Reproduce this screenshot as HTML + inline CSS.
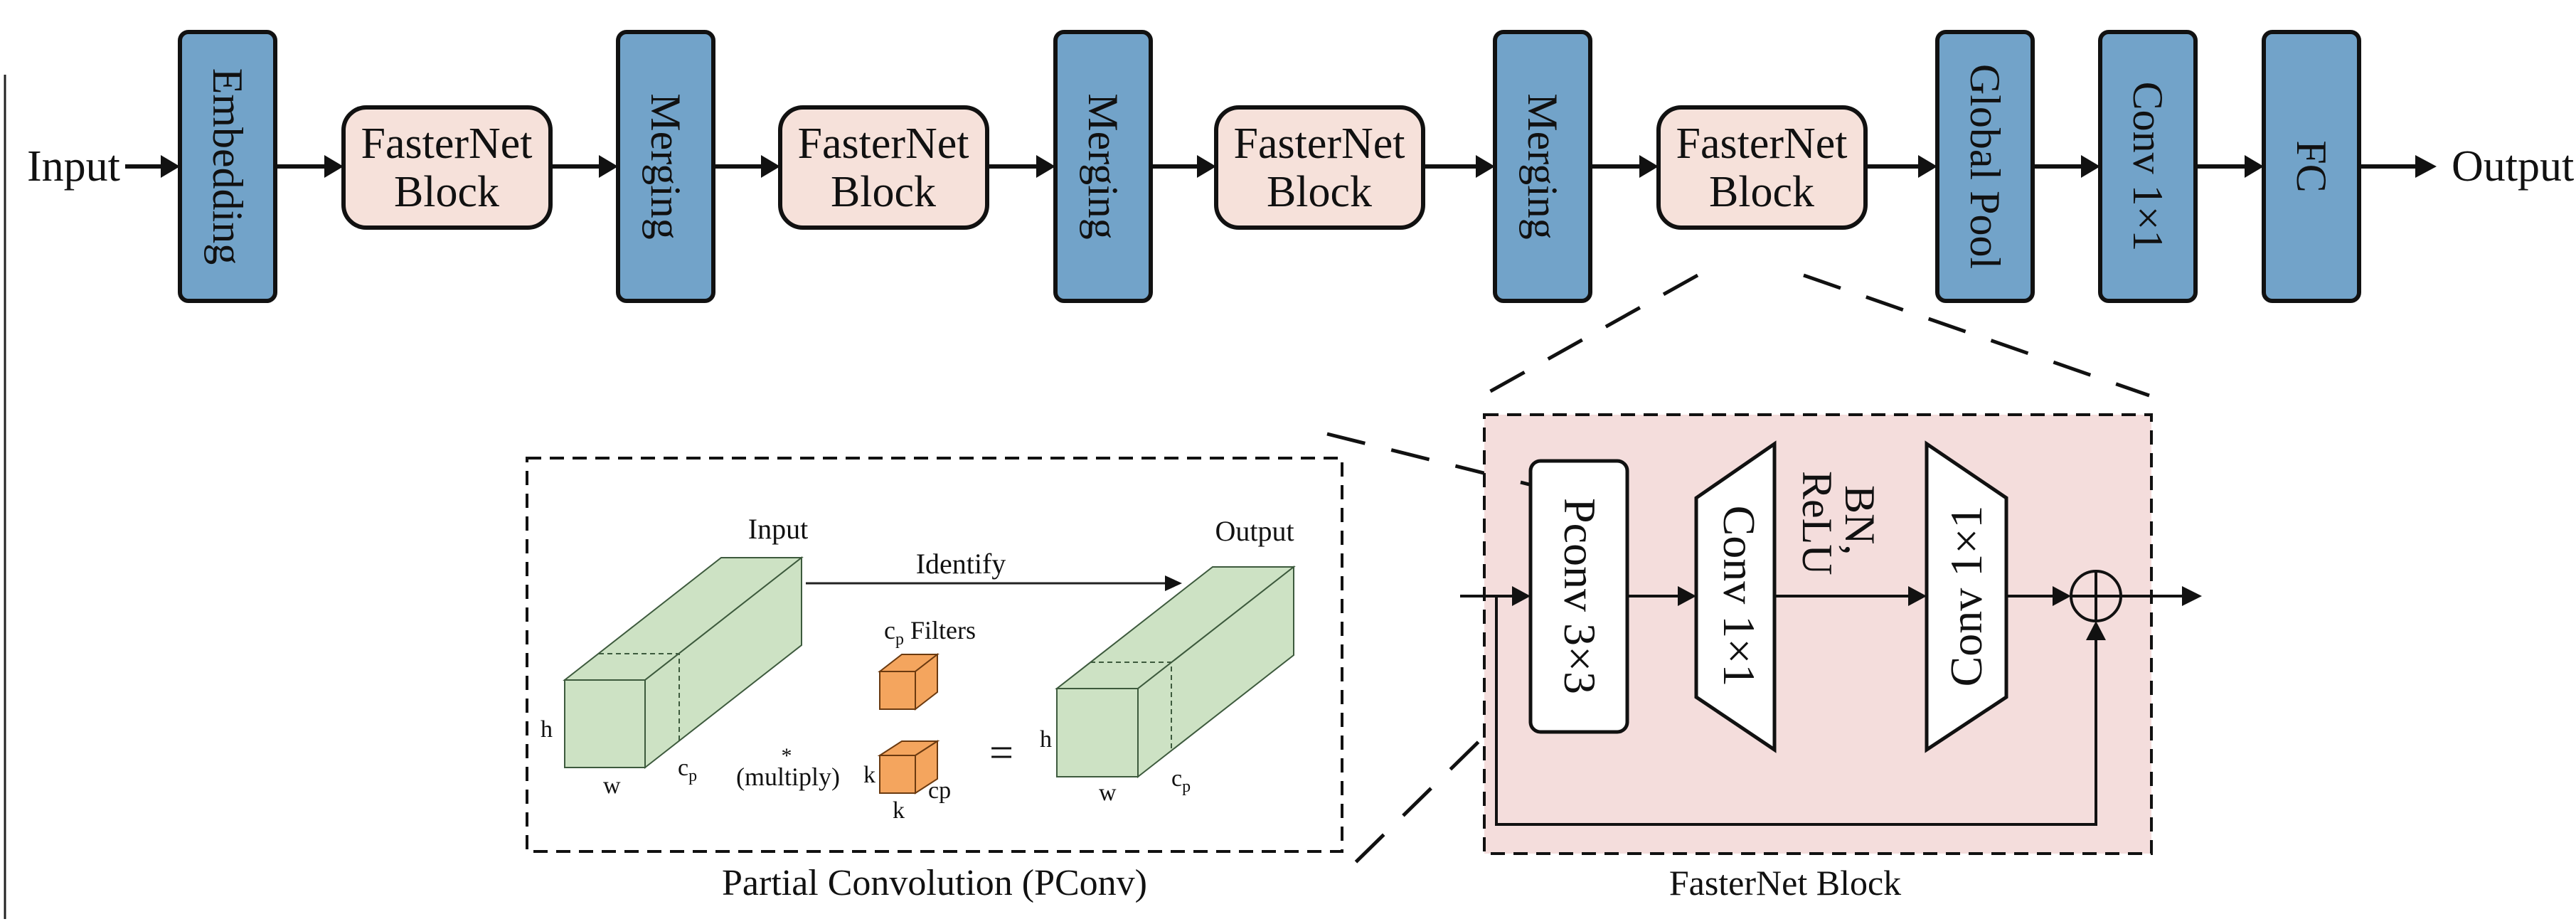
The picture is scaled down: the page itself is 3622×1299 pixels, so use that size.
<!DOCTYPE html>
<html><head><meta charset="utf-8"><style>
html,body{margin:0;padding:0;background:#fff;}
svg{display:block;}
text{font-family:"Liberation Serif","Times New Roman","DejaVu Serif",serif;fill:#111;}
</style></head><body>
<svg width="3622" height="1299" viewBox="0 0 3622 1299" xmlns="http://www.w3.org/2000/svg" font-family="Liberation Serif, Times New Roman, DejaVu Serif, serif">
<line x1="7" y1="105" x2="7" y2="1292" stroke="#222" stroke-width="3"/>

<g fill="#72a3c9" stroke="#111" stroke-width="6">
<rect x="253" y="45" width="134" height="378" rx="12"/>
<rect x="869" y="45" width="134" height="378" rx="12"/>
<rect x="1484" y="45" width="134" height="378" rx="12"/>
<rect x="2102" y="45" width="134" height="378" rx="12"/>
<rect x="2724" y="45" width="134" height="378" rx="12"/>
<rect x="2953" y="45" width="134" height="378" rx="12"/>
<rect x="3183" y="45" width="134" height="378" rx="12"/>
</g>
<g fill="#f6e1da" stroke="#111" stroke-width="6">
<rect x="483" y="151" width="291" height="169" rx="32"/>
<rect x="1097" y="151" width="291" height="169" rx="32"/>
<rect x="1710" y="151" width="291" height="169" rx="32"/>
<rect x="2332" y="151" width="291" height="169" rx="32"/>
</g>
<g font-size="62" text-anchor="middle">
<text x="628" y="222">FasterNet</text><text x="628" y="290">Block</text>
<text x="1242" y="222">FasterNet</text><text x="1242" y="290">Block</text>
<text x="1855" y="222">FasterNet</text><text x="1855" y="290">Block</text>
<text x="2477" y="222">FasterNet</text><text x="2477" y="290">Block</text>
</g>
<g font-size="60" text-anchor="middle">
<text transform="translate(320,234) rotate(90)" dy="20">Embedding</text>
<text transform="translate(936,234) rotate(90)" dy="20">Merging</text>
<text transform="translate(1551,234) rotate(90)" dy="20">Merging</text>
<text transform="translate(2169,234) rotate(90)" dy="20">Merging</text>
<text transform="translate(2791,234) rotate(90)" dy="20">Global Pool</text>
<text transform="translate(3020,234) rotate(90)" dy="20">Conv 1×1</text>
<text transform="translate(3250,234) rotate(90)" dy="20">FC</text>
</g>
<text x="38" y="254" font-size="62">Input</text>
<text x="3447" y="254" font-size="62">Output</text>
<g stroke="#111" stroke-width="6">
<line x1="176" y1="234" x2="230" y2="234"/>
<line x1="390" y1="234" x2="460" y2="234"/>
<line x1="777" y1="234" x2="846" y2="234"/>
<line x1="1006" y1="234" x2="1074" y2="234"/>
<line x1="1391" y1="234" x2="1461" y2="234"/>
<line x1="1621" y1="234" x2="1687" y2="234"/>
<line x1="2004" y1="234" x2="2079" y2="234"/>
<line x1="2239" y1="234" x2="2309" y2="234"/>
<line x1="2626" y1="234" x2="2701" y2="234"/>
<line x1="2861" y1="234" x2="2930" y2="234"/>
<line x1="3090" y1="234" x2="3160" y2="234"/>
<line x1="3320" y1="234" x2="3400" y2="234"/>
</g>
<g fill="#111">
<polygon points="253,234 226,218 226,250"/>
<polygon points="483,234 456,218 456,250"/>
<polygon points="869,234 842,218 842,250"/>
<polygon points="1097,234 1070,218 1070,250"/>
<polygon points="1484,234 1457,218 1457,250"/>
<polygon points="1710,234 1683,218 1683,250"/>
<polygon points="2102,234 2075,218 2075,250"/>
<polygon points="2332,234 2305,218 2305,250"/>
<polygon points="2724,234 2697,218 2697,250"/>
<polygon points="2953,234 2926,218 2926,250"/>
<polygon points="3183,234 3156,218 3156,250"/>
<polygon points="3426,234 3396,218 3396,250"/>
</g>

<g stroke="#111" stroke-width="5" stroke-dasharray="55,38" fill="none">
<line x1="2387" y1="387" x2="2085" y2="556"/>
<line x1="2536" y1="387" x2="3022" y2="556"/>
<line x1="1866" y1="610" x2="2138" y2="678"/>
<line x1="2145" y1="978" x2="1892" y2="1226"/>
</g>

<rect x="2087" y="583" width="938" height="617" fill="#f4dddc" stroke="#111" stroke-width="4" stroke-dasharray="20,12"/>
<text x="2510" y="1258" font-size="50" text-anchor="middle">FasterNet Block</text>
<line x1="2138" y1="678" x2="2150" y2="681" stroke="#111" stroke-width="5"/>
<rect x="2152" y="648" width="136" height="381" rx="14" fill="#fff" stroke="#111" stroke-width="5"/>
<text transform="translate(2220,838) rotate(90)" dy="20" font-size="64" text-anchor="middle">Pconv 3×3</text>
<polygon points="2385,700 2495,624 2495,1054 2385,980" fill="#fff" stroke="#111" stroke-width="5"/>
<text transform="translate(2444,838) rotate(90)" dy="20" font-size="64" text-anchor="middle">Conv 1×1</text>
<polygon points="2709,624 2821,700 2821,980 2709,1054" fill="#fff" stroke="#111" stroke-width="5"/>
<text transform="translate(2766,838) rotate(-90)" dy="20" font-size="64" text-anchor="middle">Conv 1×1</text>
<text transform="translate(2600,662) rotate(90)" font-size="60"><tspan x="20" y="5">BN,</tspan><tspan x="0" y="65">ReLU</tspan></text>
<g stroke="#111" stroke-width="4" fill="none">
<line x1="2053" y1="838" x2="2130" y2="838"/>
<line x1="2288" y1="838" x2="2362" y2="838"/>
<line x1="2495" y1="838" x2="2688" y2="838"/>
<line x1="2821" y1="838" x2="2892" y2="838"/>
<line x1="2947" y1="838" x2="3070" y2="838"/>
<polyline points="2104,838 2104,1159 2947,1159 2947,898"/>
<circle cx="2947" cy="838" r="35"/>
<line x1="2947" y1="803" x2="2947" y2="873"/>
<line x1="2912" y1="838" x2="2982" y2="838"/>
</g>
<g fill="#111">
<polygon points="2152,838 2126,824 2126,852"/>
<polygon points="2385,838 2359,824 2359,852"/>
<polygon points="2709,838 2683,824 2683,852"/>
<polygon points="2912,838 2886,824 2886,852"/>
<polygon points="3096,838 3068,824 3068,852"/>
<polygon points="2947,873 2933,900 2961,900"/>
</g>

<rect x="741" y="644" width="1146" height="553" fill="none" stroke="#111" stroke-width="4" stroke-dasharray="20,12"/>
<text x="1314" y="1258" font-size="52" text-anchor="middle">Partial Convolution (PConv)</text>
<g stroke="#3d5a3d" stroke-width="2" fill="#cde2c4">
<polygon points="794,956 907,956 1127,784 1014,784"/>
<polygon points="907,956 907,1079 1127,907 1127,784"/>
<rect x="794" y="956" width="113" height="123"/>
</g>
<g stroke="#3d5a3d" stroke-width="2" stroke-dasharray="7,5" fill="none">
<polyline points="842,919 955,919 955,1042"/>
</g>
<g stroke="#3d5a3d" stroke-width="2" fill="#cde2c4">
<polygon points="1486,968 1600,968 1819,797 1705,797"/>
<polygon points="1600,968 1600,1092 1819,921 1819,797"/>
<rect x="1486" y="968" width="114" height="124"/>
</g>
<g stroke="#3d5a3d" stroke-width="2" stroke-dasharray="7,5" fill="none">
<polyline points="1533,931 1647,931 1647,1055"/>
</g>
<g stroke="#6b3a10" stroke-width="2" fill="#f4a55e">
<polygon points="1237,944 1287,944 1318,920 1268,920"/>
<polygon points="1287,944 1287,997 1318,973 1318,920"/>
<rect x="1237" y="944" width="50" height="53"/>
<polygon points="1237,1062 1287,1062 1318,1042 1268,1042"/>
<polygon points="1287,1062 1287,1115 1318,1095 1318,1042"/>
<rect x="1237" y="1062" width="50" height="53"/>
</g>
<line x1="1133" y1="820" x2="1645" y2="820" stroke="#222" stroke-width="3"/>
<polygon points="1662,820 1638,809 1638,831" fill="#111"/>
<g font-size="40">
<text x="1094" y="757" text-anchor="middle">Input</text>
<text x="1764" y="760" text-anchor="middle">Output</text>
<text x="1351" y="806" text-anchor="middle">Identify</text>
<text x="1243" y="898" font-size="36">c<tspan font-size="24" dy="8">p</tspan><tspan dy="-8"> Filters</tspan></text>
<text x="760" y="1036" font-size="34">h</text>
<text x="848" y="1115" font-size="34">w</text>
<text x="953" y="1090" font-size="34">c<tspan font-size="24" dy="8">p</tspan></text>
<text x="1106" y="1072" font-size="30" text-anchor="middle">*</text>
<text x="1108" y="1104" font-size="36" text-anchor="middle">(multiply)</text>
<text x="1214" y="1100" font-size="34">k</text>
<text x="1255" y="1150" font-size="34">k</text>
<text x="1305" y="1122" font-size="34">cp</text>
<text x="1408" y="1078" font-size="60" text-anchor="middle">=</text>
<text x="1462" y="1050" font-size="34">h</text>
<text x="1545" y="1125" font-size="34">w</text>
<text x="1647" y="1105" font-size="34">c<tspan font-size="24" dy="8">p</tspan></text>
</g>
</svg>
</body></html>
